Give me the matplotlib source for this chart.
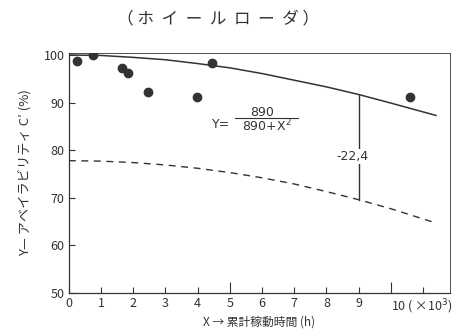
import matplotlib.pyplot as plt

plt.rcParams['font.family'] = ['Noto Sans CJK JP', 'DejaVu Sans']

# measured points (X in 10^3 h, availability %)
obs_x = [0.26, 0.75, 1.66, 1.84, 2.46, 3.97, 4.46, 10.6]
obs_y = [98.7, 99.9, 97.2, 96.2, 92.3, 91.1, 98.4, 91.2]

# solid curve Y = 890/(890+X^2)
curve_x = [0, 1, 2, 3, 4, 5, 6, 7, 8, 9, 10, 11.4]
curve_y = [100, 99.9, 99.5, 99.0, 98.2, 97.3, 96.1, 94.7, 93.3, 91.7, 89.9, 87.3]

# dashed curve
dash_x = [0, 1, 2, 3, 4, 5, 6, 7, 8, 9, 10, 11.4]
dash_y = [77.8, 77.7, 77.4, 76.9, 76.2, 75.3, 74.2, 72.9, 71.3, 69.6, 67.7, 64.7]

gap_x = 9
gap_top = 91.7
gap_bottom = 69.6

ink = '#333333'

fig = plt.figure(figsize=(4.59, 3.36), dpi=100)
ax = fig.add_axes([0.150, 0.128, 0.830, 0.714])

ax.plot(curve_x, curve_y, color=ink, lw=1.1)
ax.plot(dash_x, dash_y, color=ink, lw=1.0, ls=(0, (5, 4)))
ax.plot(obs_x, obs_y, 'o', color=ink, ms=6, mec=ink)

# difference marker
ax.plot([gap_x, gap_x], [gap_top, gap_bottom], color=ink, lw=1.0)
ax.text(gap_x - 0.2, 78.7, '-22,4', ha='center', va='center', fontsize=9, color=ink,
        family='DejaVu Sans', bbox=dict(fc='white', ec='none', pad=1))

# formula Y = 890 / (890 + X^2)
ax.text(4.45, 85.4, 'Y=', ha='left', va='center', fontsize=9, color=ink, family='DejaVu Sans')
ax.text(5.99, 88.0, '890', ha='center', va='center', fontsize=9, color=ink, family='DejaVu Sans')
ax.plot([5.16, 7.11], [86.8, 86.8], color=ink, lw=0.8)
ax.text(6.15, 85.0, '890+X$^2$', ha='center', va='center', fontsize=9, color=ink, family='DejaVu Sans')

ax.set_xlim(0, 11.83)
ax.set_ylim(50, 100.4)

ax.set_xticks(range(0, 12))
ax.set_xticklabels([str(i) for i in range(10)] + ['10 ( ×10$^3$)', ''])
ax.set_yticks([50, 60, 70, 80, 90, 100])
ax.tick_params(direction='in', length=4, width=0.8, color=ink, labelcolor=ink, labelsize=9, pad=3)
for i in (5, 10):
    ax.xaxis.get_major_ticks()[i].tick1line.set_markersize(8)
ax.get_xticklabels()[10].set_horizontalalignment('left')
ax.get_xticklabels()[10].set_x(9.85)

for s in ax.spines.values():
    s.set_color(ink)
    s.set_linewidth(0.9)
ax.spines['top'].set_linewidth(0.6)
ax.spines['right'].set_linewidth(0.6)

ax.set_xlabel('X → 累計稼動時間 (h)', fontsize=8.5, color=ink, labelpad=0)
ax.set_ylabel('Y— アベイラビリティ C′ (%)', fontsize=9.5, color=ink, labelpad=9)

fig.text(0.475, 0.945, '（ ホ  イ  ー  ル  ロ  ー  ダ ）', ha='center', va='center',
         fontsize=12, color=ink)

fig.savefig('out.png', dpi=100)
